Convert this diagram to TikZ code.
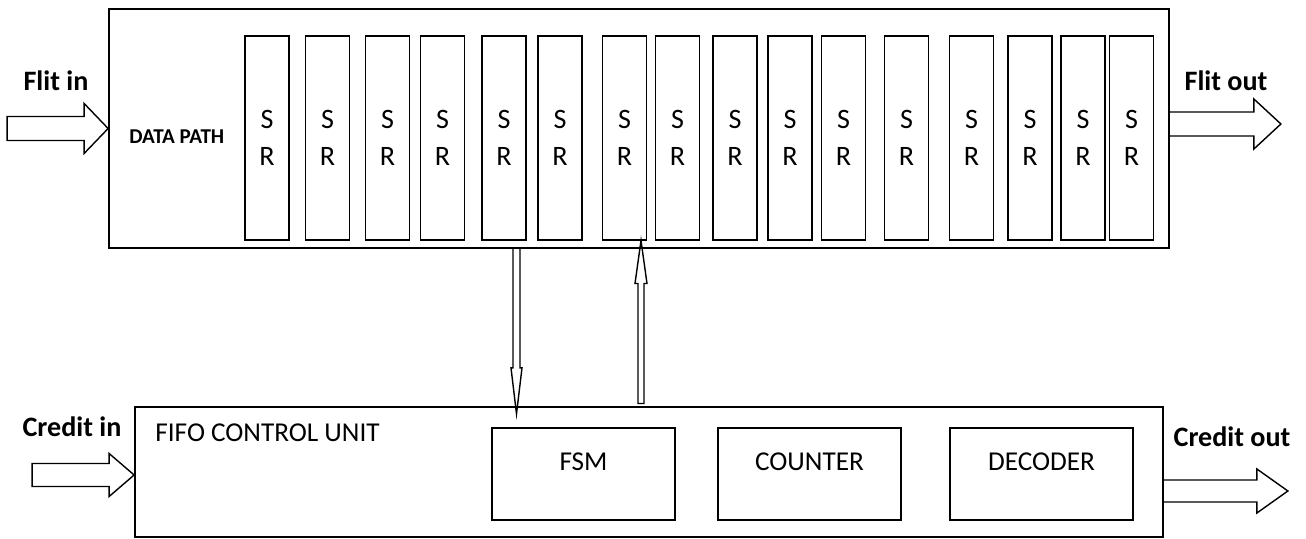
\documentclass[tikz,border=0pt]{standalone}
\usepackage{fontspec}
\setmainfont{Carlito}
\usetikzlibrary{calc}

\begin{document}
\begin{tikzpicture}[
    srbox/.style={draw, line width=0.9pt, minimum width=0.88cm, minimum height=4.08cm, align=center, font=\fontsize{16}{21}\selectfont},
    unitbox/.style={draw, line width=0.9pt, minimum width=3.66cm, minimum height=1.84cm},
    blockarrow/.style={line width=0.8pt, line join=miter},
    lbl/.style={font=\fontsize{16}{19}\selectfont\bfseries}
]
    \useasboundingbox (0,0) rectangle (26.12,-10.78);

    % Data path with the shift registers
    \node[draw, line width=1pt, minimum width=21.2cm, minimum height=4.78cm] (dp) at (12.78,-2.57) {};
    \node[anchor=west, inner sep=0pt, font=\fontsize{12}{14}\selectfont\bfseries] (dplabel) at (2.58,-2.74) {DATA PATH};
    \foreach \x [count=\i] in {5.34,6.55,7.75,8.85,10.08,11.2,12.49,13.55,14.7,15.8,16.87,18.13,19.43,20.6,21.66,22.63}
        \node[srbox] (sr\i) at (\x,-2.755) {S\\R};

    % FIFO control unit and its blocks
    \node[draw, line width=1pt, minimum width=20.56cm, minimum height=2.6cm] (fcu) at (12.98,-9.44) {};
    \node[anchor=west, inner sep=0pt, font=\fontsize{15.5}{18}\selectfont] (fculabel) at (3.1,-8.66) {FIFO CONTROL UNIT};
    \node[unitbox, label={[font=\fontsize{15.5}{18}\selectfont, yshift=0.24cm]center:FSM}] (fsm) at (11.67,-9.48) {};
    \node[unitbox, label={[font=\fontsize{15.5}{18}\selectfont, yshift=0.24cm]center:COUNTER}] (counter) at (16.19,-9.48) {};
    \node[unitbox, label={[font=\fontsize{15.5}{18}\selectfont, yshift=0.24cm]center:DECODER}] (decoder) at (20.83,-9.48) {};

    % Port labels
    \node[lbl] (flitin) at (1.12,-1.62) {Flit in};
    \node[lbl] (flitout) at (24.52,-1.62) {Flit out};
    \node[lbl] (creditin) at (1.44,-8.54) {Credit in};
    \node[lbl] (creditout) at (24.64,-8.74) {Credit out};

    % Hollow arrows in and out
    \draw[blockarrow] (dp.west) -- ++(-0.48,0.5) -- ++(0,-0.26) -- ++(-1.54,0) -- ++(0,-0.48) -- ++(1.54,0) -- ++(0,-0.26) -- cycle;
    \draw[blockarrow] ([yshift=0.33cm]dp.east) -- ++(1.68,0) -- ++(0,0.26) -- ++(0.54,-0.5) -- ++(-0.54,-0.5) -- ++(0,0.26) -- ++(-1.68,0);
    \draw[blockarrow] ([yshift=-0.06cm]fcu.west) -- ++(-0.5,0.43) -- ++(0,-0.2) -- ++(-1.54,0) -- ++(0,-0.46) -- ++(1.54,0) -- ++(0,-0.2) -- cycle;
    \draw[blockarrow] ([yshift=-0.16cm]fcu.east) -- ++(1.86,0) -- ++(0,0.22) -- ++(0.62,-0.44) -- ++(-0.62,-0.44) -- ++(0,0.22) -- ++(-1.86,0);

    % Arrows between data path and FSM
    \coordinate (dnx) at ([xshift=-1.34cm]fsm.north);
    \coordinate (upx) at ([xshift=1.15cm]fsm.north);
    \draw[blockarrow] ($(dnx |- dp.south)+(-0.07,0)$) -- ++(0,-2.38) -- ++(-0.04,0) -- ++(0.11,-0.92) -- ++(0.11,0.92) -- ++(-0.04,0) -- ++(0,2.38);
    \draw[blockarrow] (upx |- sr7.south) -- ++(0.12,-0.86) -- ++(-0.06,0) -- ++(0,-2.4) -- ++(-0.12,0) -- ++(0,2.4) -- ++(-0.06,0) -- cycle;
\end{tikzpicture}
\end{document}
